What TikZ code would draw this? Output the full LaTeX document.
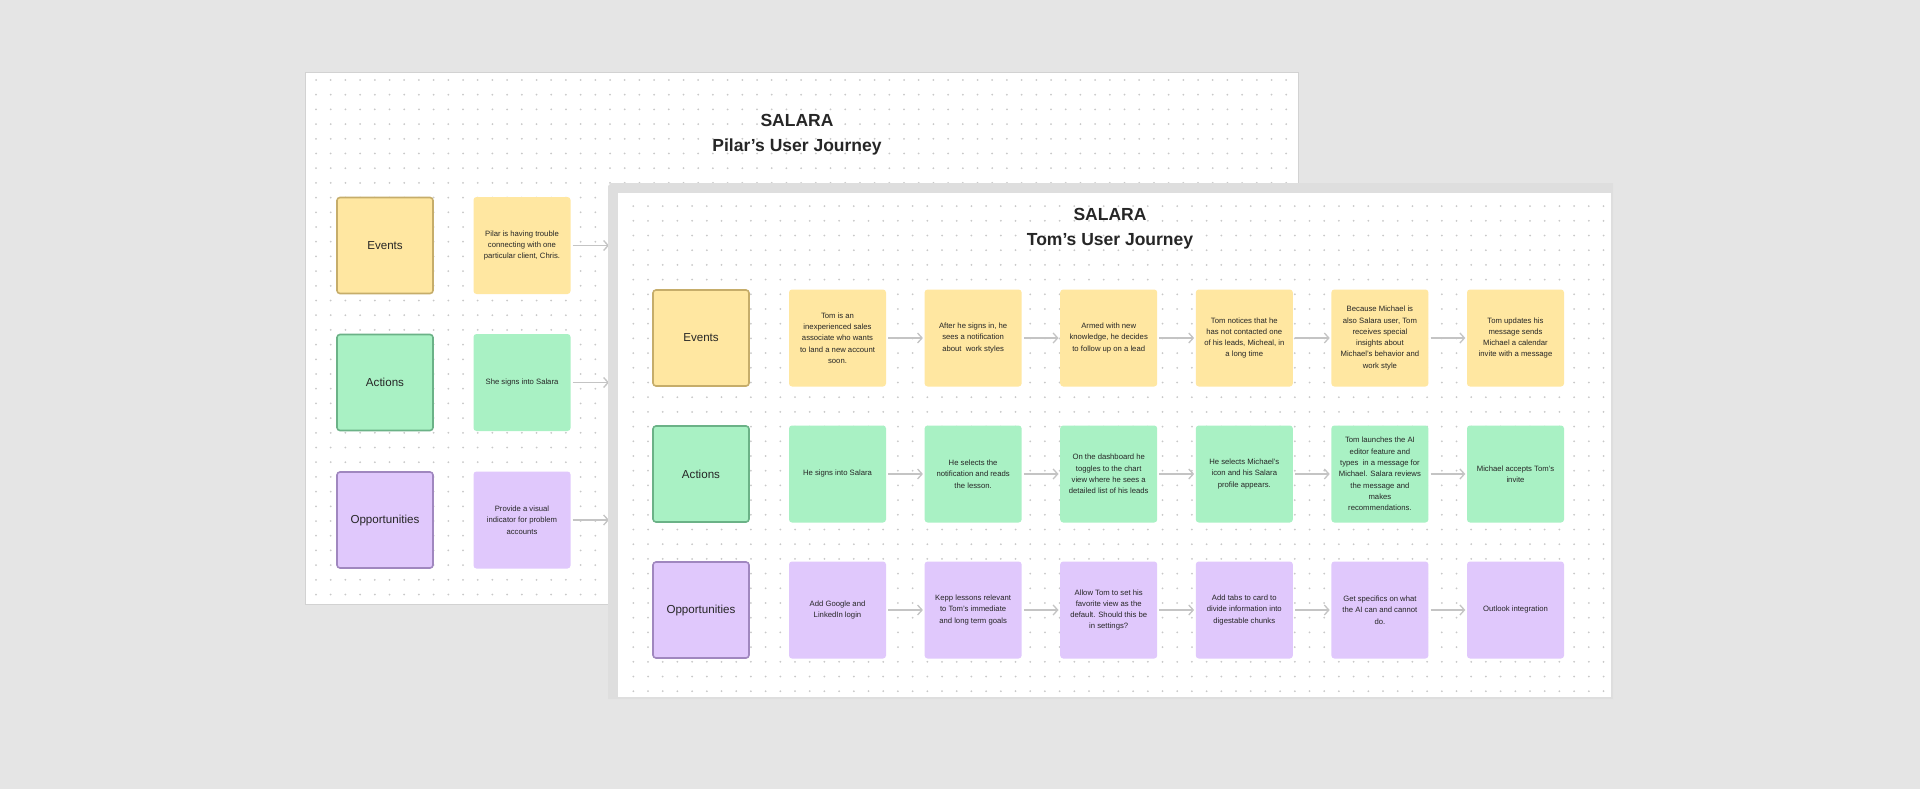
\documentclass[tikz,border=0pt]{standalone}
\usepackage{fontspec}
\setmainfont{Liberation Sans}
\usetikzlibrary{arrows.meta}
\definecolor{bg}{HTML}{E5E5E5}
\definecolor{frame}{HTML}{DEDEDE}
\definecolor{boardline}{HTML}{D2D2D2}
\definecolor{dotc}{HTML}{C8C8C8}
\definecolor{evfill}{HTML}{FFE7A1}
\definecolor{evline}{HTML}{C6AD6A}
\definecolor{acfill}{HTML}{A9F1C4}
\definecolor{acline}{HTML}{6BB287}
\definecolor{opfill}{HTML}{E0C8FC}
\definecolor{opline}{HTML}{A087BF}
\definecolor{txt}{HTML}{262626}
\definecolor{arr}{HTML}{C4C4C4}
\tikzset{
  card/.style={minimum width=97pt, minimum height=97pt, inner sep=0pt, rounded corners=3pt,
    align=center, text=txt, font=\fontsize{7.7}{11.3}\selectfont},
  lab/.style={minimum width=96pt, minimum height=96pt, inner sep=0pt, rounded corners=3pt,
    line width=1.6pt, align=center, text=txt, font=\fontsize{11.6}{14}\selectfont},
  ev/.style={fill=evfill},
  ac/.style={fill=acfill},
  op/.style={fill=opfill},
  evl/.style={lab, fill=evfill, draw=evline},
  acl/.style={lab, fill=acfill, draw=acline},
  opl/.style={lab, fill=opfill, draw=opline},
  flow/.style={draw=arr, line width=1.3pt, -{Straight Barb[length=4.5pt,width=10pt]},
    shorten >=1.5pt, shorten <=2pt},
  dotrow/.style={draw=dotc, line width=2pt, line cap=round, dash pattern=on 0pt off 14.7pt},
  ttl/.style={text=txt, font=\bfseries\fontsize{17.5}{20}\selectfont, inner sep=0pt}
}
\begin{document}
\begin{tikzpicture}[x=1pt,y=-1pt]
\useasboundingbox (0,0) rectangle (1920,789);
\fill[bg] (0,0) rectangle (1920,789);

% ---------- Pilar board ----------
\filldraw[fill=white, draw=boardline, line width=1pt] (305,73) rectangle (1298,604);
\foreach \i in {0,...,35} {
  \draw[dotrow] ({316},{80+\i*14.7}) -- ({1296},{80+\i*14.7});
}
\node[ttl] (ptitle1) at (797,120) {SALARA};
\node[ttl] (ptitle2) at (797,147) {Pilar’s User Journey};

\node[evl] (pev) at (385,245.5) {Events};
\node[acl] (pac) at (385,382.5) {Actions};
\node[opl] (pop) at (385,520) {Opportunities};

\node[card, ev] (pe1) at (522,245.5) {Pilar is having trouble\\connecting with one\\particular client, Chris.};
\node[card, ac] (pa1) at (522,382.5) {She signs into Salara};
\node[card, op] (po1) at (522,520) {Provide a visual\\indicator for problem\\accounts};

\coordinate (pe2) at (609,245.5);
\coordinate (pa2) at (609,382.5);
\coordinate (po2) at (609,520);
\draw[flow, shorten >=0pt] (pe1) -- (pe2);
\draw[flow, shorten >=0pt] (pa1) -- (pa2);
\draw[flow, shorten >=0pt] (po1) -- (po2);

% ---------- Tom board ----------
\fill[frame] (611,183) -- (1613,183) -- (1613,699) -- (608,699) -- (608,186) -- cycle;
\fill[white] (618,193) rectangle (1611,697);
\foreach \i in {0,...,33} {
  \draw[dotrow] ({633.3},{206.1+\i*14.7}) -- ({1606},{206.1+\i*14.7});
}
\node[ttl] (ttitle1) at (1110,214.5) {SALARA};
\node[ttl] (ttitle2) at (1110,241) {Tom’s User Journey};

\node[evl] (tev) at (701,338) {Events};
\node[acl] (tac) at (701,474) {Actions};
\node[opl] (top) at (701,610) {Opportunities};

% Events row
\node[card, ev] (e1) at (837.5,338) {Tom is an\\inexperienced sales\\associate who wants\\to land a new account\\soon.};
\node[card, ev] (e2) at (973.1,338) {After he signs in, he\\sees a notification\\about\ \ work styles};
\node[card, ev] (e3) at (1108.7,338) {Armed with new\\knowledge, he decides\\to follow up on a lead};
\node[card, ev] (e4) at (1244.3,338) {Tom notices that he\\has not contacted one\\of his leads, Micheal, in\\a long time};
\node[card, ev] (e5) at (1379.9,338) {Because Michael is\\also Salara user, Tom\\receives special\\insights about\\Michael’s behavior and\\work style};
\node[card, ev] (e6) at (1515.5,338) {Tom updates his\\message sends\\Michael a calendar\\invite with a message};

% Actions row
\node[card, ac] (a1) at (837.5,474) {He signs into Salara};
\node[card, ac] (a2) at (973.1,474) {He selects the\\notification and reads\\the lesson.};
\node[card, ac] (a3) at (1108.7,474) {On the dashboard he\\toggles to the chart\\view where he sees a\\detailed list of his leads};
\node[card, ac] (a4) at (1244.3,474) {He selects Michael’s\\icon and his Salara\\profile appears.};
\node[card, ac] (a5) at (1379.9,474) {Tom launches the AI\\editor feature and\\types\ \ in a message for\\Michael. Salara reviews\\the message and\\makes\\recommendations.};
\node[card, ac] (a6) at (1515.5,474) {Michael accepts Tom’s\\invite};

% Opportunities row
\node[card, op] (o1) at (837.5,610) {Add Google and\\LinkedIn login};
\node[card, op] (o2) at (973.1,610) {Kepp lessons relevant\\to Tom’s immediate\\and long term goals};
\node[card, op] (o3) at (1108.7,610) {Allow Tom to set his\\favorite view as the\\default. Should this be\\in settings?};
\node[card, op] (o4) at (1244.3,610) {Add tabs to card to\\divide information into\\digestable chunks};
\node[card, op] (o5) at (1379.9,610) {Get specifics on what\\the AI can and cannot\\do.};
\node[card, op] (o6) at (1515.5,610) {Outlook integration};

\foreach \r in {e,a,o} {
  \foreach \a/\b in {1/2,2/3,3/4,4/5,5/6} {
    \draw[flow] (\r\a) -- (\r\b);
  }
}
\end{tikzpicture}
\end{document}
